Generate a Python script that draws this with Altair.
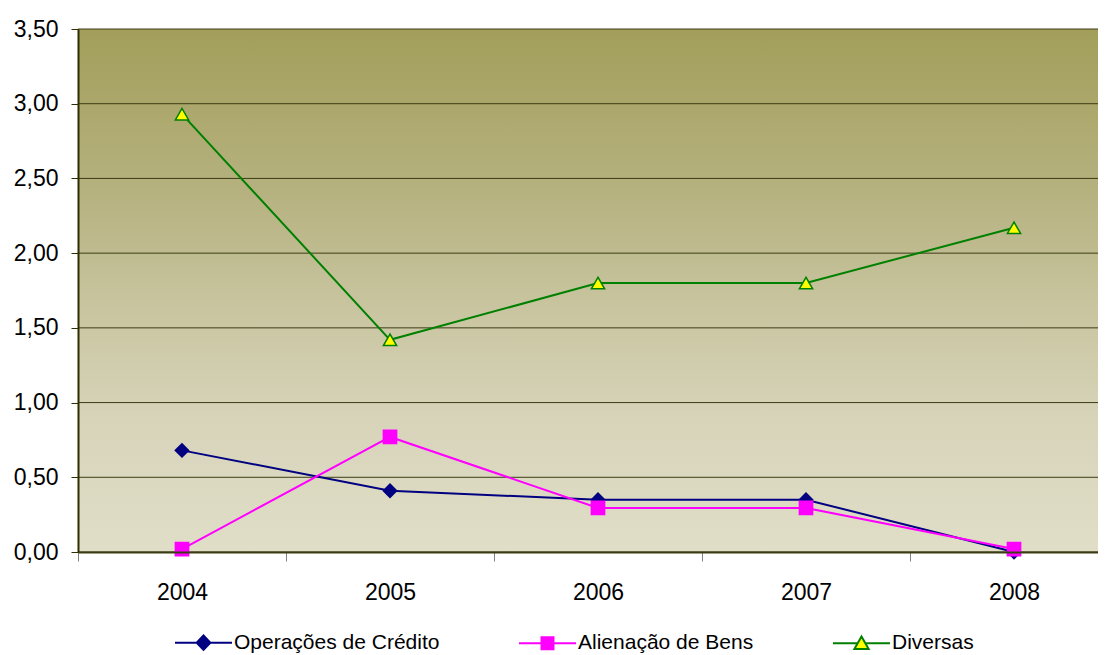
import altair as alt
import pandas as pd

years = ["2004", "2005", "2006", "2007", "2008"]
series = ["Operações de Crédito", "Alienação de Bens", "Diversas"]
operacoes = [0.68, 0.41, 0.35, 0.35, 0.00]
alienacao = [0.02, 0.77, 0.295, 0.295, 0.02]
diversas = [2.93, 1.42, 1.80, 1.80, 2.17]
y_ticks = [0.0, 0.5, 1.0, 1.5, 2.0, 2.5, 3.0, 3.5]

stroke_colors = ["#000080", "#FF00FF", "#008000"]
fill_colors = ["#000080", "#FF00FF", "#FFFF00"]
point_shapes = ["diamond", "square", "triangle-up"]
legend_shapes = [
    "M-1,0H1M0,-0.25L0.24,0L0,0.25L-0.24,0Z",
    "M-1,0H1M-0.21,-0.21H0.21V0.21H-0.21Z",
    "M-1,0H-0.13M0.13,0H1M0,-0.24L0.25,0.2H-0.25Z",
]

rows = []
for name, vals in zip(series, [operacoes, alienacao, diversas]):
    for yr, v in zip(years, vals):
        rows.append({"year": yr, "series": name, "value": v})
df = pd.DataFrame(rows)
ticks_df = pd.DataFrame({"value": y_ticks})

W, H = 1020, 523
XR = 1040
FONT = "Liberation Sans"

yscale = alt.Scale(domain=[0, 3.5], nice=False, zero=True)
xscale = alt.Scale(type="band", domain=years, range=[0, XR], paddingInner=0, paddingOuter=0)

gradient = {
    "gradient": "linear", "x1": 0, "y1": 0, "x2": 0, "y2": 1,
    "stops": [
        {"offset": 0.0, "color": "#A29E5A"},
        {"offset": 0.33, "color": "#B7B382"},
        {"offset": 0.55, "color": "#CAC6A2"},
        {"offset": 0.75, "color": "#D7D4BA"},
        {"offset": 1.0, "color": "#E1DEC8"},
    ],
}

y_axis = alt.Axis(
    title=None, values=y_ticks, labelExpr="replace(format(datum.value, '.2f'), '.', ',')",
    tickSize=7, tickColor="#2E2E00", domainColor="#2E2E00", domainWidth=2,
    labelFontSize=23, labelFont=FONT, labelColor="black", labelPadding=13,
    grid=False, zindex=1,
)
y_enc = alt.Y("value:Q", scale=yscale, axis=y_axis)

x_enc = alt.X(
    "year:N", scale=xscale, sort=years,
    axis=alt.Axis(
        title=None, labelAngle=0, tickBand="extent", tickSize=9, tickColor="#808080",
        domainColor="#3C3C14", domainWidth=2, labelFontSize=23, labelFont=FONT,
        labelColor="black", labelPadding=20, grid=False, zindex=1,
    ),
)

bg = alt.Chart(alt.Data(values=[{"a": 1}])).mark_rect(fill=gradient, strokeWidth=0).encode(
    x=alt.value(0), x2=alt.value(XR), y=alt.value(0), y2=alt.value(H)
)

grid = alt.Chart(ticks_df).mark_rule(color="#3C3C14", strokeWidth=1).encode(y=y_enc)

lines = alt.Chart(df).mark_line(strokeWidth=2).encode(
    x=x_enc, y=y_enc,
    color=alt.Color("series:N", scale=alt.Scale(domain=series, range=stroke_colors), legend=None),
)

points = alt.Chart(df).mark_point(opacity=1, size=175, strokeWidth=1.5).encode(
    x=x_enc, y=y_enc,
    shape=alt.Shape("series:N", scale=alt.Scale(domain=series, range=point_shapes), legend=None),
    fill=alt.Fill("series:N", scale=alt.Scale(domain=series, range=fill_colors), legend=None),
    stroke=alt.Stroke("series:N", scale=alt.Scale(domain=series, range=stroke_colors), legend=None),
)

leg = alt.Legend(
    title=None, orient="none", legendX=96, legendY=584, direction="horizontal",
    symbolSize=3249, symbolStrokeWidth=2, symbolOpacity=1,
    labelFontSize=21, labelFont=FONT, labelColor="black", labelOffset=1,
    labelLimit=600, columnPadding=75,
)

legend_layer = alt.Chart(df).transform_filter("false").mark_point(opacity=1, strokeWidth=2).encode(
    shape=alt.Shape("series:N", scale=alt.Scale(domain=series, range=legend_shapes), legend=leg),
    fill=alt.Fill("series:N", scale=alt.Scale(domain=series, range=fill_colors), legend=leg),
    stroke=alt.Stroke("series:N", scale=alt.Scale(domain=series, range=stroke_colors), legend=leg),
)

chart = alt.layer(bg, grid, lines, points, legend_layer).resolve_scale(
    shape="independent", fill="independent", stroke="independent"
).properties(
    width=W, height=H,
    autosize=alt.AutoSizeParams(type="none"),
    padding={"left": 70, "top": 21, "right": 0, "bottom": 110},
).configure_view(stroke=None)

chart.save("out.html", embed_options={"renderer": "svg", "actions": False})
